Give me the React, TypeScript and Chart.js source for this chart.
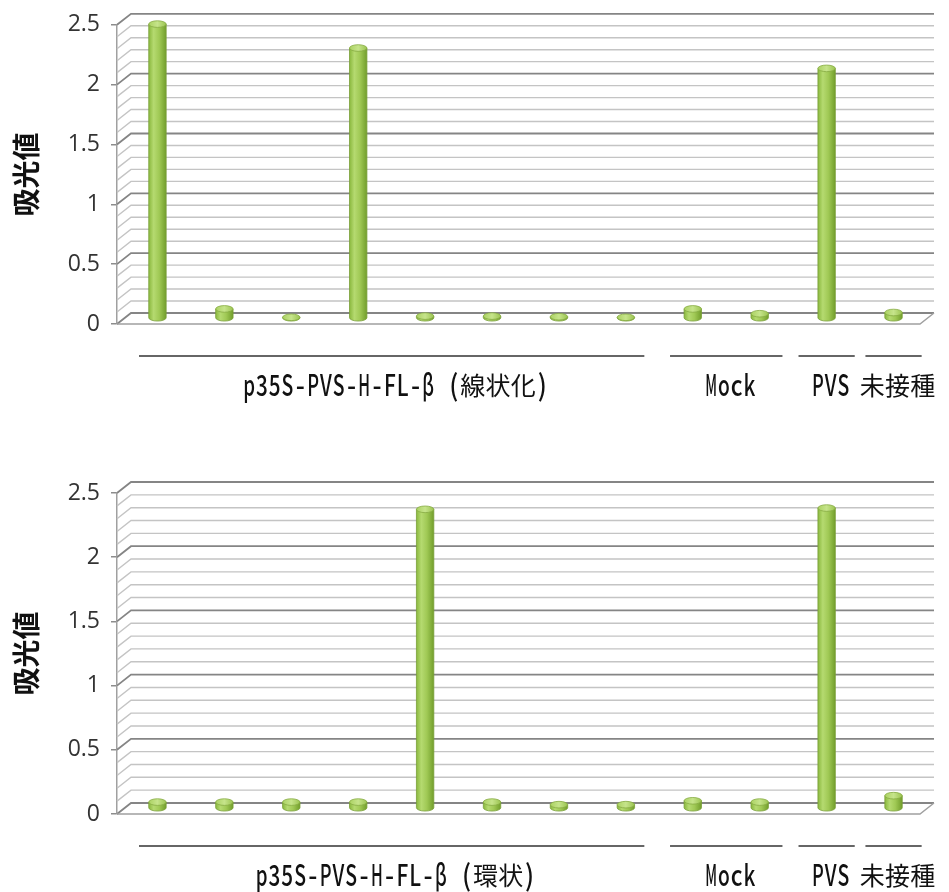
import React, { useEffect, useRef } from 'react';
import { Chart, registerables } from 'chart.js';

Chart.register(...registerables);

// ---------- data ----------
const categories = ['1', '2', '3', '4', '5', '6', '7', '8', '9', '10', '11', '12'];
const linearValues = [2.46, 0.08, 0.01, 2.26, 0.02, 0.02, 0.015, 0.01, 0.08, 0.04, 2.09, 0.05];
const circularValues = [0.05, 0.05, 0.05, 0.05, 2.33, 0.05, 0.03, 0.03, 0.06, 0.05, 2.34, 0.1];
const yTickValues = [0, 0.5, 1, 1.5, 2, 2.5];
const yTickLabels = ['0', '0.5', '1', '1.5', '2', '2.5'];
const yTitle = '吸光値';
const linearGroupLabels = ['p35S-PVS-H-FL-β (線状化)', 'Mock', 'PVS', '未接種'];
const circularGroupLabels = ['p35S-PVS-H-FL-β (環状)', 'Mock', 'PVS', '未接種'];
const groupStarts = [0, 8, 10, 11];
const groupEnds = [7, 9, 10, 11];

// ---------- style ----------
const DX = 14;
const DY = -11;
const W = 949;
const H = 446;
const LATIN_FONT = '500 29px "Noto Sans CJK JP", sans-serif';
const CJK_FONT = '25px "Noto Sans CJK JP", sans-serif';
const HALF_CELL = 12.8;
const FULL_CELL = 25.2;

function isCJK(ch: string) {
  return /[\u3000-\u9fff\uff00-\uffef]/.test(ch);
}

// monospace-like (gothic half-width / full-width) text drawing
function drawMono(ctx: CanvasRenderingContext2D, text: string, cx: number, cy: number) {
  const chars = Array.from(text);
  const cells = chars.map((ch) => (isCJK(ch) ? FULL_CELL : HALF_CELL));
  const total = cells.reduce((a, b) => a + b, 0);
  let x = cx - total / 2;
  ctx.textAlign = 'center';
  ctx.textBaseline = 'middle';
  chars.forEach((ch, i) => {
    const cell = cells[i];
    const cjk = isCJK(ch);
    ctx.font = cjk ? CJK_FONT : LATIN_FONT;
    const w = ctx.measureText(ch).width;
    const s = cjk ? 1 : Math.min(0.88, (cell - 1) / Math.max(w, 1));
    ctx.save();
    ctx.translate(x + cell / 2, cy);
    ctx.scale(s, 1);
    ctx.fillText(ch, 0, 0);
    ctx.restore();
    x += cell;
  });
}

function makeChart(canvas: HTMLCanvasElement, values: number[], groupLabels: string[], area: { top: number; bottom: number }) {
  const wallPlugin = {
    id: 'wall3d',
    beforeDatasetsDraw(chart: any) {
      const { ctx, chartArea } = chart;
      const { left, right, bottom } = chartArea;
      const ys = chart.scales.y;
      ctx.save();
      const max = yTickValues[yTickValues.length - 1];
      const n = Math.round(max / 0.1);
      for (let k = 0; k <= n; k++) {
        const v = k * 0.1;
        const py = ys.getPixelForValue(v);
        const major = k % 5 === 0;
        ctx.strokeStyle = major ? '#858585' : '#c4c4c4';
        ctx.lineWidth = major ? 1.8 : 1.4;
        ctx.beginPath();
        ctx.moveTo(left, py);
        ctx.lineTo(left + DX, py + DY);
        ctx.lineTo(right + DX, py + DY);
        ctx.stroke();
      }
      ctx.strokeStyle = '#a0a0a0';
      ctx.lineWidth = 1.5;
      ctx.beginPath();
      ctx.moveTo(left, bottom);
      ctx.lineTo(right, bottom);
      ctx.lineTo(right + DX, bottom + DY);
      ctx.stroke();
      ctx.restore();
    },
    afterDatasetsDraw(chart: any) {
      const { ctx } = chart;
      const meta = chart.getDatasetMeta(0);
      ctx.save();
      meta.data.forEach((bar: any) => {
        const { x, y, base, width } = bar.getProps(['x', 'y', 'base', 'width'], true);
        const cx = x + DX / 2;
        const ty = y + DY / 2;
        const by = base + DY / 2;
        const rx = width / 2;
        const ry = Math.max(2.6, width * 0.19);
        const g = ctx.createLinearGradient(cx - rx, 0, cx + rx, 0);
        g.addColorStop(0, '#8ab83e');
        g.addColorStop(0.28, '#b5da70');
        g.addColorStop(0.6, '#a0c955');
        g.addColorStop(1, '#729e2c');
        ctx.beginPath();
        ctx.moveTo(cx - rx, ty);
        ctx.lineTo(cx - rx, by);
        ctx.ellipse(cx, by, rx, ry, 0, Math.PI, 0, true);
        ctx.lineTo(cx + rx, ty);
        ctx.closePath();
        ctx.fillStyle = g;
        ctx.fill();
        ctx.strokeStyle = '#7a9f38';
        ctx.lineWidth = 0.8;
        ctx.stroke();
        ctx.beginPath();
        ctx.ellipse(cx, ty, rx, ry, 0, 0, Math.PI * 2);
        const tg = ctx.createLinearGradient(cx - rx, 0, cx + rx, 0);
        tg.addColorStop(0, '#abd262');
        tg.addColorStop(0.5, '#c6e48b');
        tg.addColorStop(1, '#9bc450');
        ctx.fillStyle = tg;
        ctx.fill();
        ctx.strokeStyle = '#86ab42';
        ctx.lineWidth = 0.8;
        ctx.stroke();
      });
      ctx.restore();
    },
    afterDraw(chart: any) {
      const { ctx, chartArea } = chart;
      const xs = chart.scales.x;
      const half = (xs.getPixelForValue(1) - xs.getPixelForValue(0)) / 2;
      ctx.save();
      groupLabels.forEach((label, i) => {
        const x0 = xs.getPixelForValue(groupStarts[i]) - half;
        const x1 = xs.getPixelForValue(groupEnds[i]) + half;
        const span = x1 - x0;
        const margin = Math.min(15, span * 0.08);
        const c = (x0 + x1) / 2 + DX / 2;
        const lw = span - margin * 2;
        const ly = chartArea.bottom + 32;
        ctx.strokeStyle = '#333';
        ctx.lineWidth = 1.5;
        ctx.beginPath();
        ctx.moveTo(c - lw / 2, ly);
        ctx.lineTo(c + lw / 2, ly);
        ctx.stroke();
        ctx.fillStyle = '#111';
        drawMono(ctx, label, c + 4, chartArea.bottom + 61);
      });
      ctx.restore();
    },
  };

  return new Chart(canvas, {
    type: 'bar',
    data: {
      labels: categories,
      datasets: [
        {
          data: values,
          backgroundColor: 'rgba(0,0,0,0)',
          borderWidth: 0,
          categoryPercentage: 1,
          barPercentage: 0.26,
        },
      ],
    },
    options: {
      responsive: false,
      animation: false,
      layout: { padding: { left: 0, right: W - 920, top: area.top, bottom: H - area.bottom } },
      plugins: { legend: { display: false }, tooltip: { enabled: false } },
      scales: {
        x: { type: 'category', display: false },
        y: {
          min: 0,
          max: 2.5,
          afterBuildTicks(scale: any) {
            scale.ticks = yTickValues.map((v) => ({ value: v }));
          },
          ticks: {
            font: { family: '"Open Sans", sans-serif', size: 23 },
            color: '#333',
            padding: 11,
            callback: (v: any) => {
              const i = yTickValues.indexOf(Number(v));
              return i >= 0 ? yTickLabels[i] : String(v);
            },
          },
          grid: { drawOnChartArea: false, drawTicks: true, tickLength: 6, color: '#8c8c8c', lineWidth: 1.5 },
          border: { display: true, color: '#a0a0a0', width: 1.5 },
          title: {
            display: true,
            text: yTitle,
            font: { family: '"Noto Sans CJK JP", sans-serif', size: 28, weight: 'bold' },
            color: '#111',
            padding: { top: 10, bottom: 0 },
          },
          afterFit(scale: any) {
            scale.width = 117;
          },
        },
      },
    },
    plugins: [wallPlugin],
  } as any);
}

export default function App() {
  const topRef = useRef<HTMLCanvasElement>(null);
  const bottomRef = useRef<HTMLCanvasElement>(null);

  useEffect(() => {
    const c1 = makeChart(topRef.current!, linearValues, linearGroupLabels, { top: 19, bottom: 324 });
    const c2 = makeChart(bottomRef.current!, circularValues, circularGroupLabels, { top: 47, bottom: 368 });
    return () => {
      c1.destroy();
      c2.destroy();
    };
  }, []);

  return (
    <div style={{ position: 'absolute', left: 0, top: 0, width: W, height: H * 2, background: '#fff' }}>
      <canvas ref={topRef} width={W} height={H} style={{ position: 'absolute', left: 0, top: 0, width: W, height: H }} />
      <canvas ref={bottomRef} width={W} height={H} style={{ position: 'absolute', left: 0, top: H, width: W, height: H }} />
    </div>
  );
}
